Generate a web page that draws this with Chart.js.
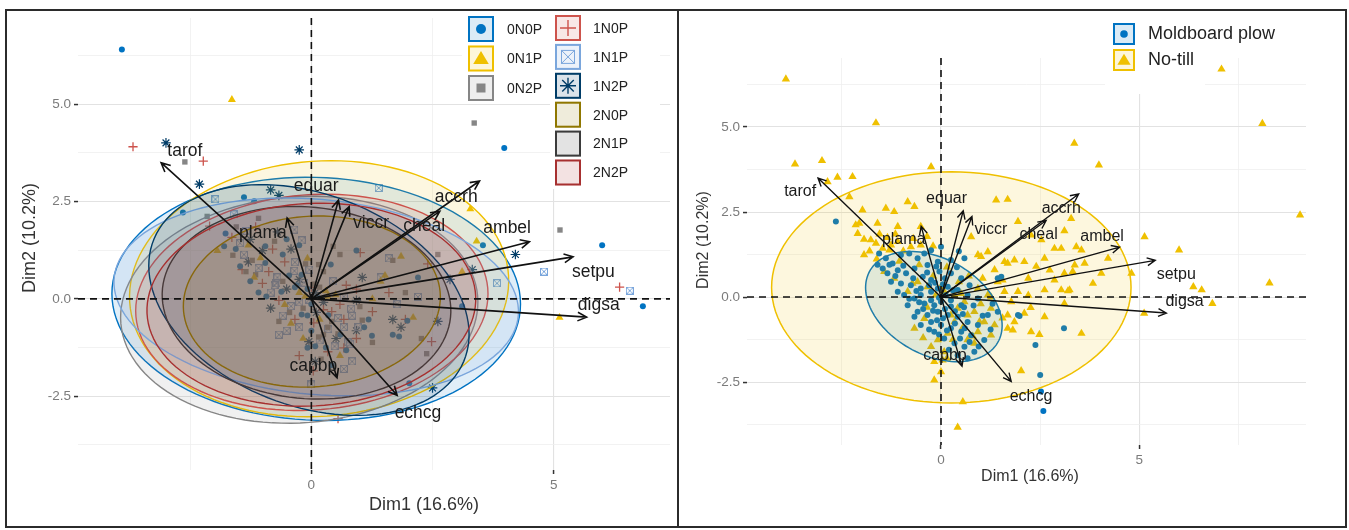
<!DOCTYPE html>
<html>
<head>
<meta charset="utf-8">
<script src="https://cdn.jsdelivr.net/npm/chart.js@4.4.1/dist/chart.umd.min.js"></script>
<style>
  body { margin: 0; background: #fff; }
  #wrap { position: relative; width: 1349px; height: 530px; overflow: hidden; background: #fff; }
  canvas { position: absolute; }
  #left { left: 8px; top: 12px; }
  #right { left: 680px; top: 12px; }
  #frame { position: absolute; left: 5px; top: 9px; width: 1338px; height: 515px; border: 2px solid #2b2b2b; }
  #divider { position: absolute; left: 677px; top: 9px; width: 2px; height: 519px; background: #2b2b2b; }
</style>
</head>
<body>
<div id="wrap">
  <canvas id="left" width="668" height="514"></canvas>
  <canvas id="right" width="666" height="514"></canvas>
  <div id="frame"></div>
  <div id="divider"></div>
</div>
<script>
// ---- data ----
const fertGroups = ['0N0P', '0N1P', '0N2P', '1N0P', '1N1P', '1N2P', '2N0P', '2N1P', '2N2P'];
const fertColors = ['#0073C2', '#EFC000', '#868686', '#CD534C', '#7AA6DC', '#003C67', '#8F7700', '#3B3B3B', '#A73030'];
const tillGroups = ['Moldboard plow', 'No-till'];
const tillColors = ['#0073C2', '#EFC000'];

// individuals: [Dim1, Dim2, fertiliser group index]
const moldboard = [
  [-1.56,1.28,0],[-1.39,1.14,4],[-1.22,0.99,2],[-1.01,1.24,5],[-0.80,1.28,3],[-0.59,1.14,0],[-0.34,0.94,4],[-0.08,1.04,1],[0.25,1.09,6],[0.59,1.14,2],
  [-1.47,0.84,0],[-1.35,0.70,2],[-1.09,0.79,4],[-0.88,0.70,3],[-0.67,0.84,7],[-0.46,0.60,0],[-0.25,0.50,5],[-0.04,0.75,4],[0.25,0.70,2],[0.51,0.55,8],
  [-1.26,0.45,0],[-1.01,0.40,3],[-0.76,0.35,4],[-0.51,0.25,5],[-0.25,0.16,1],[-0.08,0.25,0],[0.17,0.30,2],[0.42,0.21,6],[0.67,0.06,4],[0.93,-0.04,5],
  [-0.93,0.06,0],[-0.67,-0.04,3],[-0.42,-0.19,4],[-0.17,-0.24,2],[0,-0.14,0],[0.25,-0.09,5],[0.51,-0.24,7],[-0.59,-0.43,4],[-0.34,-0.53,3],[-0.08,-0.43,0],
  [0.17,-0.53,1],[0.42,-0.58,2],[0.67,-0.73,4],[0.93,-0.82,5],[1.18,-0.53,0],[1.43,-0.43,8],[1.94,-0.53,3],[-0.25,-0.73,4],[0,-0.82,0],[0.25,-0.92,2],
  [0.51,-1.02,5],[0.76,-1.12,4],[1.09,-1.26,6],[0.08,-1.22,0],[0.34,-1.36,3],[0.59,-1.46,1],[0.84,-1.61,4],[0.67,-1.80,4],[0.42,-1.71,0],[-0.17,-1.02,1],
  [-0.51,-0.82,4],[-0.67,-0.58,2],[-1.09,0.16,0],[-0.84,-0.24,5],[0.25,-0.28,3],[-0.25,-0.09,4],[-0.51,0.06,7],[-2.65,2.22,0],[3.10,-0.92,6],[2.38,-1.41,2],
  [2.50,-2.29,5],[2.52,-2.78,6],[2.58,-3.35,7],[1.98,-0.56,0],[1.52,0.60,1],[1.43,0.55,4],[0,1.48,8],[0.45,1.35,2],[-0.25,1.38,0],[-0.42,1.28,5],
  [-0.30,0.35,0],[-0.15,0.42,4],[0.05,0.38,2],[0.12,0.05,0],[-0.05,-0.02,4],[0.10,-0.35,5],[0.35,-0.42,0],[0.55,-0.50,4],[-0.45,-0.35,2],[-0.20,-0.40,0],
  [0.05,-0.62,3],[0.35,-0.78,4],[0.60,-0.92,0],[0.15,-0.98,2],[-0.05,-1.10,5],[0.48,-1.22,4],[0.72,-1.32,0],[0.20,-1.55,2],[-0.70,0.55,4],[-0.95,0.92,0],
  [-1.15,0.62,2],[-1.30,0.95,5],[-0.62,0.18,0],[-0.35,0.72,4],[-0.12,0.90,2],[0.40,0.88,0],[0.72,0.35,3],[0.82,-0.25,4],[1.05,-0.55,2],[1.25,-0.95,0],
  [-0.80,-0.05,6],[-0.30,-0.95,7],[0.95,-1.45,8],[1.30,-0.20,6],[-1.60,0.95,7],[0.10,0.55,8],[0.30,0.20,1],[-0.55,-0.15,1],[0.58,-0.30,6],[-0.10,-0.68,7]
];
const noTill = [
  [-2.15,2.12,2],[-1.94,1.24,1],[-1.77,1.68,0],[-1.64,1.58,3],[-1.47,1.43,4],[-1.26,1.53,5],[-1.09,1.63,6],[-0.76,1.48,2],[-0.51,1.53,0],[-0.20,1.50,4],
  [-1.43,0.75,3],[-1.18,0.55,1],[-0.84,0.16,4],[-0.59,0.45,2],[-0.34,0.30,0],[-0.13,0.06,1],[0.08,0.16,5],[0.34,0.06,1],[0.59,-0.14,3],[0.84,-0.43,4],
  [1.09,-0.73,0],[1.35,-0.82,7],[0.67,-0.53,3],[0.34,-0.73,2],[0.17,-1.07,4],[-0.08,-1.26,0],[-0.25,-1.46,3],[0.08,-1.61,5],[0.25,-0.53,8],[0.42,-0.33,3],
  [-0.42,-0.63,1],[-0.67,-0.92,4],[0.93,0.25,3],[1.18,0.06,6],[1.43,0.45,1],[1.60,0.16,3],[1.77,-0.14,4],[1.94,0.16,2],[0.93,1.24,0],[1.18,1.33,8],
  [1.60,1.04,4],[1.85,1.09,1],[1.94,2.22,7],[-1.09,2.07,2],[-0.51,2.07,6],[0.93,-1.02,3],[1.26,-1.12,2],[0,-2.20,4],[1.68,-0.92,0],[1.85,-0.73,5],
  [-3.91,6.41,0],[-1.64,5.12,1],[7.07,6.70,1],[8.10,5.10,6],[3.36,4.52,2],[3.98,3.88,0],[9.05,2.41,7],[8.28,0.41,8],[-3.00,4.01,5],[-3.68,3.91,3],
  [-2.61,3.52,2],[-2.23,3.54,3],[-0.25,3.83,5],[-2.86,3.39,7],[-2.31,2.95,5],[-1.98,2.56,4],[-1.39,2.61,0],[-1.18,2.51,0],[-0.84,2.80,5],[-0.67,2.66,5],
  [-2.06,2.17,6],[-2.10,1.87,3],[-1.94,1.70,8],[-1.60,2.17,4],[-1.30,1.38,1],[1.39,2.85,4],[1.68,2.87,6],[0.76,1.77,7],[3.28,2.31,1],[3.11,1.95,8],
  [2.27,1.82,6],[2.53,1.68,7],[1.01,1.19,3],[1.68,0.99,2],[2.10,1.04,8],[2.61,1.14,2],[2.86,1.43,6],[3.03,1.43,7],[3.41,1.48,1],[3.54,1.38,0],
  [2.74,0.79,8],[2.86,0.50,5],[3.11,0.70,1],[3.32,0.75,5],[3.37,0.94,6],[3.62,0.99,7],[4.21,1.14,5],[4.04,0.70,8],[3.83,0.40,4],[4.80,0.70,4],
  [5.13,1.77,2],[6.00,1.38,0],[6.36,0.30,3],[6.57,0.21,4],[6.84,-0.19,0],[5.12,-0.48,1],[2.61,0.21,6],[3.03,0.21,7],[3.24,0.21,8],[1.68,-0.53,5],
  [2.10,-0.48,1],[1.81,-0.97,0],[2.61,-0.58,5],[1.26,-0.33,3],[0.97,-0.73,4],[3.54,-1.07,6],[2.27,-1.02,2],[3.11,-0.19,0],[-0.17,-2.44,7],[0.42,-3.83,8],
  [0.55,-3.08,3],[-0.17,-1.90,6],[0.04,-1.85,3],[-0.72,0.40,4],[1.26,0,1],[0.67,-1.26,3],[0.84,-1.36,8],[2.02,-2.17,0],[2.26,-0.31,7],[2.48,-1.10,3],
  [3.20,0.18,6],
  [-1.80,1.35,0],[-1.55,1.85,2],[-1.35,1.75,4],[-1.15,1.85,3],[-0.95,1.35,0],[-0.70,1.72,5],[-0.35,1.78,4],[-1.62,1.12,2],[-1.05,1.05,1],[-0.55,0.95,3],
  [-0.20,0.62,0],[0.15,0.88,2],[0.45,0.45,4],[0.70,0.62,6],[1.05,0.55,5],[1.35,0.80,7],[1.55,0.50,8],[2.20,0.55,0],[2.40,0.90,3],[0.55,-0.90,2],
  [0.80,-1.15,4],[0.30,-1.25,0],[-0.45,-1.20,6],[0.15,-1.80,7],[-0.35,-0.30,8],[0.00,0.30,3],[0.50,0.10,1],[1.00,-0.20,2],[2.20,0.05,4],[1.55,-0.62,6]
];

// variable arrows
const varNames = ['tarof', 'plama', 'equar', 'viccr', 'accrh', 'cheal', 'ambel', 'setpu', 'digsa', 'capbp', 'echcg'];
const varDim1 = [-3.10, -0.50, 0.56, 0.78, 3.47, 2.65, 4.50, 5.40, 5.68, 0.53, 1.77];
const varDim2 = [3.50, 2.08, 2.54, 2.37, 3.03, 2.25, 1.47, 1.08, -0.47, -2.03, -2.48];

// confidence ellipses: [centre Dim1, centre Dim2, radius Dim1, radius Dim2, angle deg]
const fertEllipses = [
  [0.10, 0.00, 4.22, 3.12, -4],
  [0.16, 0.26, 3.93, 3.27, 10],
  [-0.25, -0.28, 3.70, 2.90, 8],
  [0.01, -0.09, 3.65, 2.76, 8],
  [0.10, 0.05, 4.20, 2.50, -8],
  [-0.05, -0.03, 3.60, 2.60, -35],
  [0.01, -0.07, 2.66, 2.19, 8],
  [-0.10, -0.10, 3.00, 2.45, -12],
  [0.00, -0.15, 3.40, 2.60, 6]
];
const tillEllipses = [
  [-0.18, -0.28, 1.94, 1.35, -40],
  [0.26, 0.285, 4.53, 3.40, 0]
];

// axes
const dim1Breaks = [0, 5];
const dim1Labels = ['0', '5'];
const dim1Minor = [-2.5, 2.5, 7.5];
const dim2Breaks = [-2.5, 0, 2.5, 5];
const dim2Labels = ['-2.5', '0.0', '2.5', '5.0'];
const dim2Minor = [-3.75, -1.25, 1.25, 3.75, 6.25];
const dim1Title = 'Dim1 (16.6%)';
const dim2Title = 'Dim2 (10.2%)';

// ---- drawing helpers ----
const FONT = '"Liberation Sans", Arial, Helvetica, sans-serif';
const allPoints = moldboard.concat(noTill);

function squareCross(color, size) {
  const c = document.createElement('canvas');
  c.width = size; c.height = size;
  const g = c.getContext('2d');
  g.strokeStyle = color; g.lineWidth = 1;
  g.strokeRect(0.5, 0.5, size - 1, size - 1);
  g.beginPath();
  g.moveTo(0.5, 0.5); g.lineTo(size - 0.5, size - 0.5);
  g.moveTo(size - 0.5, 0.5); g.lineTo(0.5, size - 0.5);
  g.stroke();
  return c;
}

const fertStyles = [
  { pointStyle: 'circle', radius: 3, borderWidth: 0 },
  { pointStyle: 'triangle', radius: 4.6, borderWidth: 0 },
  { pointStyle: 'rect', radius: 3.8, borderWidth: 0 },
  { pointStyle: 'cross', radius: 4.6, borderWidth: 1.3 },
  { pointStyle: squareCross('#7AA6DC', 8), radius: 4, borderWidth: 0 },
  { pointStyle: 'star', radius: 4.8, borderWidth: 1.2 }
];

function symbol(ctx, kind, x, y, s, color) {
  ctx.save();
  ctx.fillStyle = color; ctx.strokeStyle = color; ctx.lineWidth = 1.4;
  ctx.beginPath();
  if (kind === 'circle') { ctx.arc(x, y, s, 0, Math.PI * 2); ctx.fill(); }
  else if (kind === 'triangle') { ctx.moveTo(x, y - s); ctx.lineTo(x + s * 1.05, y + s * 0.75); ctx.lineTo(x - s * 1.05, y + s * 0.75); ctx.closePath(); ctx.fill(); }
  else if (kind === 'square') { ctx.fillRect(x - s, y - s, 2 * s, 2 * s); }
  else if (kind === 'plus') { ctx.moveTo(x - s, y); ctx.lineTo(x + s, y); ctx.moveTo(x, y - s); ctx.lineTo(x, y + s); ctx.stroke(); }
  else if (kind === 'squareX') {
    ctx.lineWidth = 1; ctx.strokeRect(x - s, y - s, 2 * s, 2 * s);
    ctx.moveTo(x - s, y - s); ctx.lineTo(x + s, y + s); ctx.moveTo(x + s, y - s); ctx.lineTo(x - s, y + s); ctx.stroke();
  } else if (kind === 'asterisk') {
    ctx.moveTo(x - s, y); ctx.lineTo(x + s, y); ctx.moveTo(x, y - s); ctx.lineTo(x, y + s);
    const d = s * 0.72;
    ctx.moveTo(x - d, y - d); ctx.lineTo(x + d, y + d); ctx.moveTo(x + d, y - d); ctx.lineTo(x - d, y + d); ctx.stroke();
  }
  ctx.restore();
}

function alpha(hex, a) {
  const n = parseInt(hex.slice(1), 16);
  return `rgba(${n >> 16},${(n >> 8) & 255},${n & 255},${a})`;
}

function drawEllipse(ctx, xs, ys, e, color, fillA, lw) {
  const [cx, cy, rx, ry, ang] = e;
  const a = ang * Math.PI / 180;
  ctx.beginPath();
  for (let i = 0; i <= 120; i++) {
    const t = i / 120 * Math.PI * 2;
    const dx = rx * Math.cos(t), dy = ry * Math.sin(t);
    const px = xs.getPixelForValue(cx + dx * Math.cos(a) - dy * Math.sin(a));
    const py = ys.getPixelForValue(cy + dx * Math.sin(a) + dy * Math.cos(a));
    if (i === 0) ctx.moveTo(px, py); else ctx.lineTo(px, py);
  }
  ctx.closePath();
  ctx.fillStyle = alpha(color, fillA);
  ctx.fill();
  ctx.strokeStyle = color; ctx.lineWidth = lw;
  ctx.stroke();
}

function arrow(ctx, x1, y1, x2, y2, head) {
  const ang = Math.atan2(y2 - y1, x2 - x1);
  ctx.beginPath();
  ctx.moveTo(x1, y1); ctx.lineTo(x2, y2);
  ctx.moveTo(x2 - head * Math.cos(ang - 0.45), y2 - head * Math.sin(ang - 0.45));
  ctx.lineTo(x2, y2);
  ctx.lineTo(x2 - head * Math.cos(ang + 0.45), y2 - head * Math.sin(ang + 0.45));
  ctx.stroke();
}

function overlay(opt) {
  return {
    id: 'overlay',
    afterDatasetsDraw(chart) {
      const ctx = chart.ctx, xs = chart.scales.x, ys = chart.scales.y;
      ctx.save();
      opt.ellipses.forEach((e, i) => drawEllipse(ctx, xs, ys, e, opt.ellipseColors[i], opt.fillA, opt.ellipseLw));
      // reference lines
      const x0 = xs.getPixelForValue(0), y0 = ys.getPixelForValue(0);
      ctx.setLineDash([7, 5]);
      ctx.strokeStyle = '#111'; ctx.lineWidth = 1.6;
      ctx.beginPath();
      ctx.moveTo(xs.left, y0); ctx.lineTo(xs.right, y0);
      ctx.moveTo(x0, ys.top); ctx.lineTo(x0, ys.bottom);
      ctx.stroke();
      ctx.setLineDash([]);
      // variable arrows
      ctx.strokeStyle = '#111'; ctx.lineWidth = opt.arrowLw;
      varNames.forEach((n, i) => {
        arrow(ctx, x0, y0, xs.getPixelForValue(varDim1[i]), ys.getPixelForValue(varDim2[i]), opt.head);
      });
      ctx.fillStyle = '#1a1a1a';
      ctx.font = `${opt.labelSize}px ${FONT}`;
      ctx.textAlign = 'center'; ctx.textBaseline = 'middle';
      varNames.forEach(n => {
        const p = opt.labelPos[n];
        ctx.fillText(n, xs.getPixelForValue(p[0]), ys.getPixelForValue(p[1]));
      });
      ctx.restore();
    },
    afterDraw(chart) {
      const ctx = chart.ctx;
      ctx.save();
      ctx.fillStyle = '#333';
      ctx.font = `${opt.titleSize}px ${FONT}`;
      ctx.textAlign = 'center'; ctx.textBaseline = 'middle';
      ctx.fillText(dim1Title, opt.xTitle[0], opt.xTitle[1]);
      ctx.translate(opt.yTitle[0], opt.yTitle[1]);
      ctx.rotate(-Math.PI / 2);
      ctx.fillText(dim2Title, 0, 0);
      ctx.restore();
      opt.legend(ctx);
    }
  };
}

function axis(min, max, breaks, labels, minor, position, size) {
  const isMajor = c => c.tick && breaks.includes(c.tick.value);
  return {
    type: 'linear', min, max, position,
    afterBuildTicks(s) {
      s.ticks = breaks.concat(minor).filter(v => v >= min && v <= max).sort((a, b) => a - b).map(v => ({ value: v }));
    },
    afterFit(s) {
      if (position === 'left') { s.width = size; s.paddingTop = 0; s.paddingBottom = 0; }
      else { s.height = size; s.paddingLeft = 0; s.paddingRight = 0; }
    },
    ticks: {
      autoSkip: false, maxRotation: 0, padding: 3, color: '#7b7b7b',
      font: { family: FONT, size: 13.5 },
      callback: v => { const i = breaks.indexOf(v); return i < 0 ? '' : labels[i]; }
    },
    grid: {
      color: c => isMajor(c) ? '#e2e2e2' : '#efefef',
      lineWidth: c => isMajor(c) ? 1.1 : 0.8,
      drawTicks: true, tickLength: 4, tickWidth: 1.5,
      tickColor: c => isMajor(c) ? '#333' : 'rgba(0,0,0,0)'
    },
    border: { display: false }
  };
}

function legendKey(ctx, x, y, w, color) {
  ctx.fillStyle = '#fff'; ctx.fillRect(x, y, w, w);
  ctx.fillStyle = alpha(color, 0.14); ctx.fillRect(x, y, w, w);
  ctx.strokeStyle = color; ctx.lineWidth = 2;
  ctx.strokeRect(x + 1, y + 1, w - 2, w - 2);
}

// ---- left panel: fertiliser groups ----
const leftDatasets = fertStyles.map((st, g) => ({
  label: fertGroups[g],
  data: allPoints.filter(p => p[2] === g).map(p => ({ x: p[0], y: p[1] })),
  backgroundColor: fertColors[g],
  borderColor: fertColors[g],
  pointStyle: st.pointStyle,
  pointRadius: st.radius,
  pointBorderWidth: st.borderWidth
}));

const leftKinds = ['circle', 'triangle', 'square', 'plus', 'squareX', 'asterisk', null, null, null];
const leftKindSize = { circle: 5, triangle: 7.4, square: 4.5, plus: 8, squareX: 6.5, asterisk: 8 };

new Chart(document.getElementById('left'), {
  type: 'scatter',
  data: { datasets: leftDatasets },
  options: {
    responsive: false, animation: false, events: [],
    layout: { padding: { top: 0, right: 3, bottom: 26, left: 0 } },
    plugins: { legend: { display: false }, tooltip: { enabled: false } },
    scales: {
      x: axis(-4.815, 7.40, dim1Breaks, dim1Labels, dim1Minor, 'bottom', 30),
      y: axis(-4.40, 7.22, dim2Breaks, dim2Labels, dim2Minor, 'left', 70)
    }
  },
  plugins: [overlay({
    ellipses: fertEllipses, ellipseColors: fertColors, fillA: 0.12, ellipseLw: 1.4,
    arrowLw: 1.6, head: 10, labelSize: 17.5, titleSize: 18,
    labelPos: {
      tarof: [-2.61, 3.79], plama: [-1.0, 1.69], equar: [0.10, 2.89], viccr: [1.23, 1.95],
      accrh: [2.99, 2.61], cheal: [2.33, 1.86], ambel: [4.04, 1.82], setpu: [5.82, 0.69],
      digsa: [5.93, -0.15], capbp: [0.04, -1.74], echcg: [2.20, -2.94]
    },
    xTitle: [416, 493], yTitle: [22, 226],
    legend(ctx) {
      ctx.save();
      ctx.translate(-8, -12);
      ctx.fillStyle = '#fff';
      ctx.fillRect(462, 12, 88, 92);
      ctx.fillRect(550, 12, 110, 177);
      fertGroups.forEach((g, i) => {
        const col = i < 3 ? 0 : 1;
        const row = i < 3 ? i : i - 3;
        const kx = col ? 555 : 468;
        const ky = col ? 15 + row * 28.9 : 16 + row * 29.5;
        legendKey(ctx, kx, ky, 26, fertColors[i]);
        if (leftKinds[i]) symbol(ctx, leftKinds[i], kx + 13, ky + 13, leftKindSize[leftKinds[i]], fertColors[i]);
        ctx.fillStyle = '#222';
        ctx.font = `14px ${FONT}`;
        ctx.textAlign = 'left'; ctx.textBaseline = 'middle';
        ctx.fillText(g, col ? 593 : 507, ky + 14);
      });
      ctx.restore();
    }
  })]
});

// ---- right panel: tillage ----
new Chart(document.getElementById('right'), {
  type: 'scatter',
  data: {
    datasets: [
      { label: tillGroups[0], data: moldboard.map(p => ({ x: p[0], y: p[1] })), backgroundColor: tillColors[0], borderWidth: 0, pointStyle: 'circle', pointRadius: 3 },
      { label: tillGroups[1], data: noTill.map(p => ({ x: p[0], y: p[1] })), backgroundColor: tillColors[1], borderWidth: 0, pointStyle: 'triangle', pointRadius: 4.8 }
    ]
  },
  options: {
    responsive: false, animation: false, events: [],
    layout: { padding: { top: 46, right: 40, bottom: 51, left: 0 } },
    plugins: { legend: { display: false }, tooltip: { enabled: false } },
    scales: {
      x: axis(-4.89, 9.20, dim1Breaks, dim1Labels, dim1Minor, 'bottom', 30),
      y: axis(-4.35, 7.03, dim2Breaks, dim2Labels, dim2Minor, 'left', 67)
    }
  },
  plugins: [overlay({
    ellipses: tillEllipses, ellipseColors: tillColors, fillA: 0.13, ellipseLw: 1.5,
    arrowLw: 1.4, head: 9, labelSize: 16, titleSize: 16,
    labelPos: {
      tarof: [-3.55, 3.10], plama: [-0.94, 1.70], equar: [0.14, 2.90], viccr: [1.26, 1.97],
      accrh: [3.03, 2.61], cheal: [2.46, 1.84], ambel: [4.06, 1.79], setpu: [5.93, 0.65],
      digsa: [6.14, -0.14], capbp: [0.10, -1.71], echcg: [2.27, -2.93]
    },
    xTitle: [350, 465], yTitle: [24, 228],
    legend(ctx) {
      ctx.save();
      ctx.translate(-680, -12);
      ctx.fillStyle = '#fff';
      ctx.fillRect(1105, 14, 185, 34);
      ctx.fillRect(1105, 48, 100, 46);
      tillGroups.forEach((g, i) => {
        const ky = 23 + i * 26;
        legendKey(ctx, 1113, ky, 22, tillColors[i]);
        symbol(ctx, i ? 'triangle' : 'circle', 1124, ky + 11, i ? 6.3 : 3.8, tillColors[i]);
        ctx.fillStyle = '#222';
        ctx.font = `18px ${FONT}`;
        ctx.textAlign = 'left'; ctx.textBaseline = 'middle';
        ctx.fillText(g, 1148, ky + 11);
      });
      ctx.restore();
    }
  })]
});
</script>
</body>
</html>
